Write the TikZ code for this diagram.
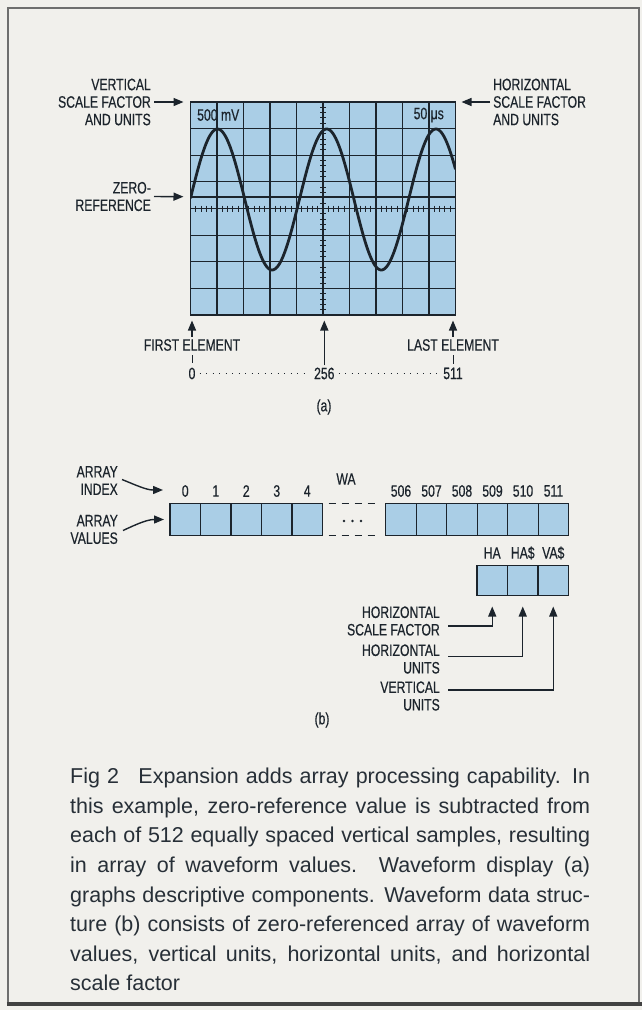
\documentclass[tikz,border=0pt]{standalone}
\usepackage{fontspec}
\setmainfont{Liberation Sans}
\newfontfamily\condfont[FakeStretch=0.74,FakeBold=0.4]{Liberation Sans}
\usetikzlibrary{arrows.meta}
\definecolor{scr}{RGB}{170,206,230}
\definecolor{ink}{RGB}{28,36,44}
\definecolor{paper}{RGB}{241,240,236}
\definecolor{framec}{RGB}{110,110,110}
\tikzset{
  lbl/.style={font=\condfont\fontsize{16.5}{17.5}\selectfont, text=ink, inner sep=0pt},
  arr/.style={draw=ink, line width=1.4pt, -{Triangle[length=10pt,width=8pt]}},
  thinln/.style={draw=ink, line width=1pt},
  gridln/.style={draw=ink, line width=1.1pt},
  cellbox/.style={draw=ink, fill=scr, line width=1.3pt, minimum width=30.5pt, minimum height=32pt, inner sep=0pt, outer sep=0pt},
  wave/.style={draw=ink, line width=2.8pt},
}
\begin{document}
\begin{tikzpicture}[x=1pt,y=-1pt]
\useasboundingbox (0,0) rectangle (642,1010);
\fill[paper] (0,0) rectangle (642,1010);
\draw[framec, line width=2.5pt] (8,1004) -- (8,8) -- (639,8) -- (639,1004);
\draw[framec!60!black, line width=4pt] (6.75,1004) -- (642,1004);

% ---------- oscilloscope screen ----------
\node[draw=ink, fill=scr, line width=1.3pt, minimum width=265pt, minimum height=213pt, inner sep=0pt, outer sep=0pt] (screen) at (323,208.5) {};
\foreach \i in {1,...,9} {\draw[gridln] (190.5+26.5*\i,102) -- +(0,213);}
\foreach \j in {1,2,3,5,6,7} {\draw[gridln] (190.5,102+26.625*\j) -- +(265,0);}
\draw[ink, line width=0.7pt] (190.5,208.5) -- +(265,0);
\foreach \k in {1,...,49} {\draw[thinln] (190.5+5.3*\k,205.5) -- +(0,6);}
\foreach \k in {1,...,39} {\draw[thinln] (320,102+5.325*\k) -- +(6,0);}
\coordinate (zr0) at (190.5,196.7);
\draw[ink, line width=2pt] (zr0) -- (455.5,196.7);
\begin{scope}
\clip (190.5,102) rectangle (455.5,315);
\draw[wave, domain=190.5:455.5, samples=240] plot (\x,{199.5-70.5*sin((\x-190.2)*3.2967)});
\end{scope}
\draw[draw=ink, line width=1.3pt] (screen.north west) rectangle (screen.south east);
\node[lbl, anchor=west] (mv) at (197,115) {500 mV};
\node[lbl, anchor=east] (us) at (444,115) {50 μs};

% left / right labels
\node[lbl, align=right, anchor=east] (vsf) at (151,102) {VERTICAL\\SCALE FACTOR\\AND UNITS};
\draw[arr] ([xshift=3pt]vsf.east) -- ([xshift=-7pt]screen.north west);
\node[lbl, align=right, anchor=east] (zrl) at (151,196.5) {ZERO-\\REFERENCE};
\draw[arr] ([xshift=3pt]zrl.east) -- ([xshift=-7pt]zr0);
\node[lbl, align=left, anchor=west] (hsfu) at (493,102) {HORIZONTAL\\SCALE FACTOR\\AND UNITS};
\draw[arr] ([xshift=-3pt]hsfu.west) -- ([xshift=6pt]screen.north east);

% bottom markers
\node[lbl] (first) at (192,345) {FIRST ELEMENT};
\node[lbl] (last) at (453,345) {LAST ELEMENT};
\node[lbl] (n0) at (192,373.5) {0};
\node[lbl] (n256) at (324.3,373.5) {256};
\node[lbl] (n511) at (453,373.5) {511};
\coordinate (tipF) at (192,320.5);
\coordinate (tipC) at (324.3,320.5);
\coordinate (tipL) at (453,320.5);
\draw[arr] ([yshift=2pt]first.north) -- (tipF);
\draw[arr] ([yshift=2pt]last.north) -- (tipL);
\draw[arr] ([yshift=2pt]n256.north) -- (tipC);
\draw[thinln, shorten <=4pt, shorten >=4pt] (first.south) -- (n0.north);
\draw[thinln, shorten <=4pt, shorten >=4pt] (last.south) -- (n511.north);
\draw[ink, line width=1pt, dash pattern=on 1pt off 5.5pt, shorten <=4pt, shorten >=4pt] (n0.east) -- (n256.west);
\draw[ink, line width=1pt, dash pattern=on 1pt off 5.5pt, shorten <=4pt, shorten >=4pt] (n256.east) -- (n511.west);
\node[lbl] (capa) at (324,407) {(a)};

% ---------- array structure ----------
\node[lbl, align=right, anchor=east] (aidx) at (118,480.5) {ARRAY\\INDEX};
\node[lbl, align=right, anchor=east] (aval) at (118,529.5) {ARRAY\\VALUES};
\foreach \i in {0,...,4} {
  \node[cellbox] (c\i) at (185.25+30.5*\i,519.5) {};
  \node[lbl] (i\i) at (185.25+30.5*\i,491) {\i};
}
\foreach \i/\n in {0/506,1/507,2/508,3/509,4/510,5/511} {
  \node[cellbox] (d\i) at (401+30.5*\i,519.5) {};
  \node[lbl] (j\i) at (401+30.5*\i,491) {\n};
}
\node[lbl] (wa) at (346,479) {WA};
\draw[ink, line width=1.3pt, dash pattern=on 7pt off 6pt] ([xshift=6pt]c4.north east) -- ([xshift=-9pt]d0.north west);
\draw[ink, line width=1.3pt, dash pattern=on 7pt off 6pt] ([xshift=6pt]c4.south east) -- ([xshift=-9pt]d0.south west);
\foreach \d in {-8.5,0,8.5} {\fill[ink] (352.5+\d,521) circle (1.4pt);}
\coordinate (idxTip) at (163,490);
\coordinate (valTip) at (164,519.5);
\draw[arr] ([xshift=4pt,yshift=1pt]aidx.east) to[out=-22,in=180] (idxTip);
\draw[arr] ([xshift=5pt,yshift=-1pt]aval.east) to[out=25,in=180] (valTip);

\foreach \i/\t in {0/HA,1/HA\$,2/VA\$} {
  \node[cellbox, minimum height=30pt] (s\i) at (492.25+30.5*\i,580.5) {};
  \node[lbl] (h\i) at (492.25+30.5*\i,553) {\t};
}
\node[lbl, align=right, anchor=east] (lhsf) at (440,621) {HORIZONTAL\\SCALE FACTOR};
\node[lbl, align=right, anchor=east] (lhu) at (440,659) {HORIZONTAL\\UNITS};
\node[lbl, align=right, anchor=east] (lvu) at (440,696) {VERTICAL\\UNITS};
\draw[arr] ([xshift=8pt,yshift=-5pt]lhsf.east) -| ([yshift=-11pt]s0.south);
\draw[arr] ([xshift=8pt,yshift=2.3pt]lhu.east) -| ([yshift=-11pt]s1.south);
\draw[arr] ([xshift=8pt,yshift=6pt]lvu.east) -| ([yshift=-11pt]s2.south);
\node[lbl] (capb) at (322,720) {(b)};

% ---------- caption ----------
\node[anchor=north west, inner sep=0pt, text width=520pt, align=justify, text=ink!95,
      font=\fontsize{21.5}{29.6}\selectfont] (cap) at (70,768) {\tolerance=10000\hbadness=10000\noindent
Fig 2\hspace{0.9em}Expansion adds array processing capability. In\linebreak
this example, zero-reference value is subtracted from\linebreak
each of 512 equally spaced vertical samples, resulting\linebreak
in array of waveform values. Waveform display (a)\linebreak
graphs descriptive components. Waveform data struc-\linebreak
ture (b) consists of zero-referenced array of waveform\linebreak
values, vertical units, horizontal units, and horizontal\linebreak
scale factor};
\end{tikzpicture}
\end{document}
